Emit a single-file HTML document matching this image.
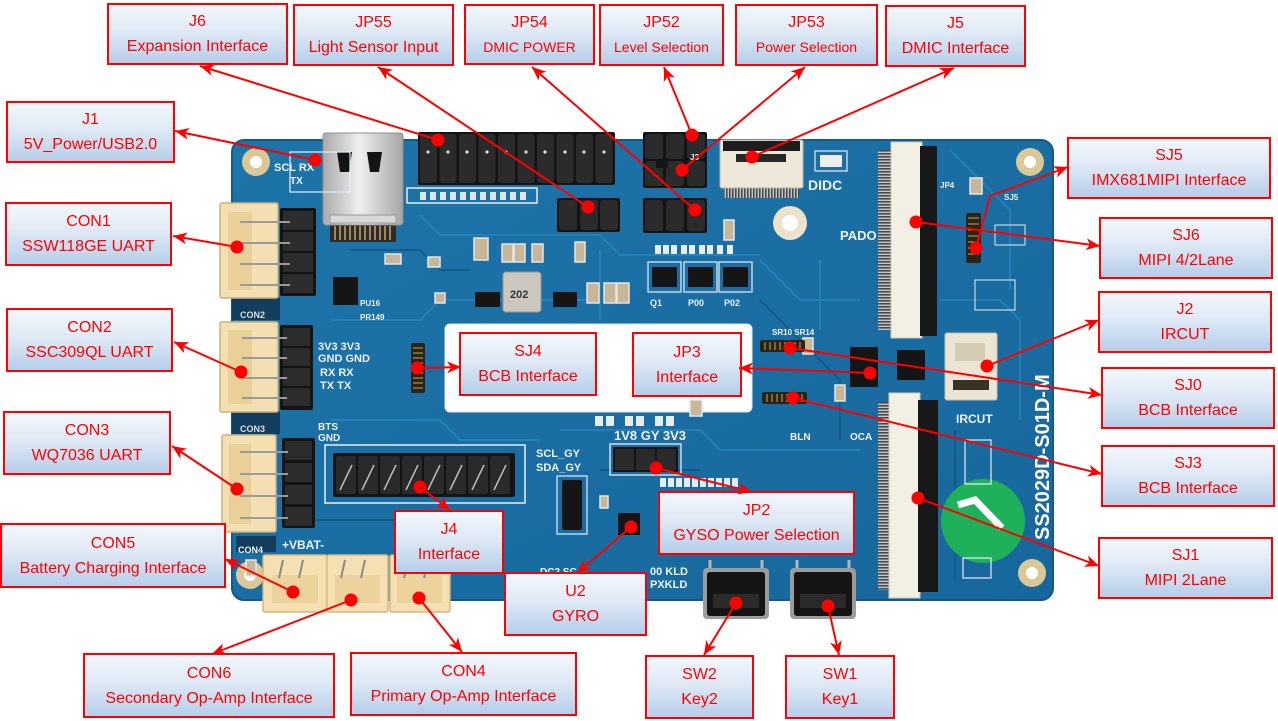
<!DOCTYPE html>
<html><head><meta charset="utf-8">
<style>
html,body{margin:0;padding:0;background:#fff;}
body{width:1278px;height:721px;position:relative;overflow:hidden;font-family:"Liberation Sans","Noto Sans CJK SC",sans-serif;}
.b{position:absolute;box-sizing:border-box;border:2px solid #ff0000;background:linear-gradient(to bottom,#f3f7fc 0%,#dfe9f5 45%,#b5cee9 100%);color:#ff0000;display:flex;flex-direction:column;justify-content:center;align-items:center;font-size:16px;line-height:25px;white-space:nowrap;z-index:1;}
.b span{display:block;}
.s{font-size:14px;}
svg{position:absolute;left:0;top:0;}
</style></head><body>
<svg width="1278" height="721" viewBox="0 0 1278 721">
<defs>
<linearGradient id="usb" x1="0" x2="1"><stop offset="0" stop-color="#a9a9a9"/><stop offset=".45" stop-color="#efefef"/><stop offset="1" stop-color="#a5a5a5"/></linearGradient>
<pattern id="teeth" width="14" height="3" patternUnits="userSpaceOnUse"><rect width="14" height="1.6" fill="#4a4a4a"/><rect y="1.6" width="14" height="1.4" fill="#c4c4c4"/></pattern>
<pattern id="teethh" width="3" height="14" patternUnits="userSpaceOnUse"><rect width="1.6" height="14" fill="#4a4a4a"/><rect x="1.6" width="1.4" height="14" fill="#c4c4c4"/></pattern>
<linearGradient id="board" x1="0" y1="0" x2="1" y2="1"><stop offset="0" stop-color="#1d74a9"/><stop offset="1" stop-color="#17679c"/></linearGradient>
</defs>
<!-- board -->
<rect x="232" y="140" width="821" height="460" rx="12" fill="url(#board)" stroke="#145a88" stroke-width="2"/>
<!-- trace texture -->
<g fill="none" stroke="#2a88c0" stroke-width="2" opacity=".7">
<path d="M420 215 L440 235 L600 235 L620 255 L760 255"/>
<path d="M330 320 L420 320 L440 300 L600 300"/>
<path d="M760 260 L800 300 L860 300"/>
<path d="M560 430 L700 430 L720 450 L860 450"/>
<path d="M940 300 L1000 300 L1020 320 L1020 420"/>
<path d="M330 420 L440 420 L460 440 L540 440"/>
<path d="M600 250 L600 320"/>
<path d="M820 260 L820 330"/>
<path d="M950 150 L1010 210 L1010 290"/>
</g>
<g fill="none" stroke="#135887" stroke-width="2" opacity=".8">
<path d="M350 250 L420 250 L440 270 L470 270"/>
<path d="M600 470 L700 470"/>
<path d="M760 300 L840 380 L840 440"/>
<path d="M955 430 L955 580"/>
<path d="M300 520 L400 520"/>
</g>
<!-- dark areas left -->
<rect x="232" y="298" width="48" height="22" fill="#123d5e"/>
<rect x="232" y="412" width="48" height="22" fill="#123d5e"/>
<rect x="236" y="536" width="40" height="16" fill="#123d5e"/>
<!-- mounting holes -->
<g fill="#dac896"><circle cx="256" cy="162" r="14"/><circle cx="1030" cy="162" r="14"/><circle cx="250" cy="575" r="14"/><circle cx="1032" cy="573" r="14"/></g>
<circle cx="790" cy="223" r="17" fill="#ebe3cb"/>
<g fill="#fff"><circle cx="256" cy="162" r="6"/><circle cx="1030" cy="162" r="6"/><circle cx="250" cy="575" r="6"/><circle cx="1032" cy="573" r="6"/><circle cx="790" cy="223" r="8"/></g>
<!-- USB-C -->
<rect x="330" y="222" width="66" height="20" fill="#2c2c2c"/>
<g stroke="#c9a860" stroke-width="1.5"><path d="M335 226v14M340 226v14M345 226v14M350 226v14M355 226v14M360 226v14M365 226v14M370 226v14M375 226v14M380 226v14M385 226v14M390 226v14"/></g>
<rect x="323" y="133" width="80" height="92" rx="3" fill="url(#usb)" stroke="#8f8f8f"/>
<rect x="330" y="215" width="66" height="8" fill="#d8d8d8" stroke="#999"/>
<path d="M337 152 h15 l-3 20 h-9 z" fill="#141414"/>
<path d="M367 152 h15 l-3 20 h-9 z" fill="#141414"/>
<!-- J6 header -->
<rect x="418" y="132" width="197" height="53" rx="2" fill="#141414"/>
<g fill="#2b2b2b">
<rect x="420" y="134" width="17" height="49" rx="3"/><rect x="439.5" y="134" width="17" height="49" rx="3"/><rect x="459" y="134" width="17" height="49" rx="3"/><rect x="478.5" y="134" width="17" height="49" rx="3"/><rect x="498" y="134" width="17" height="49" rx="3"/><rect x="517.5" y="134" width="17" height="49" rx="3"/><rect x="537" y="134" width="17" height="49" rx="3"/><rect x="556.5" y="134" width="17" height="49" rx="3"/><rect x="576" y="134" width="17" height="49" rx="3"/><rect x="595.5" y="134" width="17" height="49" rx="3"/>
</g>
<g fill="#ddd"><circle cx="428" cy="152" r="1.6"/><circle cx="448" cy="152" r="1.6"/><circle cx="467" cy="152" r="1.6"/><circle cx="487" cy="152" r="1.6"/><circle cx="506" cy="152" r="1.6"/><circle cx="526" cy="152" r="1.6"/><circle cx="545" cy="152" r="1.6"/><circle cx="565" cy="152" r="1.6"/><circle cx="584" cy="152" r="1.6"/><circle cx="604" cy="152" r="1.6"/></g>
<rect x="407" y="188" width="130" height="15" fill="none" stroke="#e8eef2" stroke-width="1.5"/>
<g fill="#e0e6ea"><rect x="420" y="192" width="6" height="8"/><rect x="430" y="192" width="6" height="8"/><rect x="440" y="192" width="6" height="8"/><rect x="450" y="192" width="6" height="8"/><rect x="460" y="192" width="6" height="8"/><rect x="470" y="192" width="6" height="8"/><rect x="480" y="192" width="6" height="8"/><rect x="490" y="192" width="6" height="8"/><rect x="500" y="192" width="6" height="8"/><rect x="510" y="192" width="6" height="8"/><rect x="520" y="192" width="6" height="8"/></g>
<!-- JP55 -->
<rect x="557" y="198" width="63" height="34" rx="2" fill="#141414"/>
<g fill="#2b2b2b"><rect x="559" y="200" width="18" height="30" rx="3"/><rect x="580" y="200" width="18" height="30" rx="3"/><rect x="600" y="200" width="18" height="30" rx="3"/></g>
<!-- JP52/53 -->
<rect x="643" y="132" width="64" height="56" rx="2" fill="#141414"/>
<g fill="#2b2b2b"><rect x="645" y="134" width="18" height="25" rx="3"/><rect x="666" y="134" width="18" height="25" rx="3"/><rect x="687" y="134" width="18" height="25" rx="3"/><rect x="645" y="161" width="18" height="25" rx="3"/><rect x="666" y="161" width="18" height="25" rx="3"/><rect x="687" y="161" width="18" height="25" rx="3"/></g>
<!-- JP54 -->
<rect x="643" y="198" width="64" height="35" rx="2" fill="#141414"/>
<g fill="#2b2b2b"><rect x="645" y="200" width="18" height="31" rx="3"/><rect x="666" y="200" width="18" height="31" rx="3"/><rect x="687" y="200" width="18" height="31" rx="3"/></g>
<!-- J5 FPC -->
<rect x="724" y="185" width="75" height="13" fill="url(#teethh)"/>
<rect x="720" y="140" width="83" height="48" rx="2" fill="#ece7d8" stroke="#bdb6a2"/>
<rect x="723" y="141" width="77" height="10" fill="#1d1d1d"/>
<rect x="736" y="154" width="50" height="8" fill="#262626"/>
<!-- top vertical FPC -->
<rect x="878" y="150" width="14" height="180" fill="url(#teeth)"/>
<rect x="891" y="142" width="31" height="196" fill="#f2efe5" stroke="#cfc9b8"/>
<rect x="920" y="146" width="17" height="190" fill="#181818"/>
<!-- lower vertical FPC -->
<rect x="878" y="402" width="13" height="188" fill="url(#teeth)"/>
<rect x="889" y="393" width="31" height="205" fill="#f2efe5" stroke="#cfc9b8"/>
<rect x="918" y="400" width="20" height="192" fill="#181818"/>
<!-- white window -->
<rect x="445" y="324" width="307" height="88" rx="5" fill="#ffffff" stroke="#dfe6ea"/>
<!-- left JST connectors -->
<g fill="#f3dfb2" stroke="#cdb27a" stroke-width="1.5">
<rect x="220" y="203" width="58" height="95" rx="2"/>
<rect x="220" y="322" width="58" height="90" rx="2"/>
<rect x="222" y="435" width="54" height="97" rx="2"/>
</g>
<g fill="#e9cf98"><rect x="228" y="212" width="24" height="78"/><rect x="228" y="330" width="24" height="74"/><rect x="229" y="444" width="22" height="80"/></g>
<g fill="#141414">
<rect x="280" y="208" width="36" height="88" rx="2"/>
<rect x="280" y="325" width="33" height="85" rx="2"/>
<rect x="282" y="438" width="33" height="90" rx="2"/>
</g>
<g fill="#2c2c2c"><rect x="283" y="211" width="30" height="19"/><rect x="283" y="232" width="30" height="19"/><rect x="283" y="253" width="30" height="19"/><rect x="283" y="274" width="30" height="19"/>
<rect x="283" y="328" width="27" height="18"/><rect x="283" y="348" width="27" height="18"/><rect x="283" y="368" width="27" height="18"/><rect x="283" y="388" width="27" height="18"/>
<rect x="285" y="441" width="27" height="19"/><rect x="285" y="463" width="27" height="19"/><rect x="285" y="485" width="27" height="19"/><rect x="285" y="507" width="27" height="19"/></g>
<g stroke="#9a9a9a" stroke-width="2"><path d="M240 222h50M240 243h50M240 264h50M240 285h50M242 338h45M242 358h45M242 378h45M242 398h45M240 452h48M240 474h48M240 496h48M240 518h48"/></g>
<!-- bottom JST -->
<g fill="#f5e0b4" stroke="#d3b77f" stroke-width="1.5">
<rect x="263" y="555" width="64" height="57" rx="2"/>
<rect x="327" y="555" width="61" height="57" rx="2"/>
<rect x="390" y="555" width="60" height="57" rx="2"/>
</g>
<g fill="#ecd29c"><rect x="272" y="575" width="46" height="28"/><rect x="335" y="575" width="45" height="28"/><rect x="397" y="575" width="45" height="28"/></g>
<g stroke="#8a8a8a" stroke-width="2"><path d="M283 560l-4 18M303 560l-4 18M345 560l-4 18M365 560l-4 18M408 560l-4 18M428 560l-4 18"/></g>
<!-- J4 header -->
<rect x="325" y="445" width="200" height="58" fill="none" stroke="#e8eef2" stroke-width="1.5"/>
<rect x="333" y="453" width="182" height="44" rx="2" fill="#141414"/>
<g fill="#2a2a2a"><rect x="336" y="456" width="20" height="38" rx="2"/><rect x="358" y="456" width="20" height="38" rx="2"/><rect x="380" y="456" width="20" height="38" rx="2"/><rect x="402" y="456" width="20" height="38" rx="2"/><rect x="424" y="456" width="20" height="38" rx="2"/><rect x="446" y="456" width="20" height="38" rx="2"/><rect x="468" y="456" width="20" height="38" rx="2"/><rect x="490" y="456" width="20" height="38" rx="2"/></g>
<g stroke="#bbb" stroke-width="1.5"><path d="M340 490l12-25M362 490l12-25M384 490l12-25M406 490l12-25M428 490l12-25M450 490l12-25M472 490l12-25M494 490l12-25"/></g>
<!-- JP2 header -->
<rect x="610" y="444" width="71" height="31" fill="none" stroke="#e8eef2" stroke-width="1.3"/>
<rect x="613" y="447" width="65" height="25" fill="#141414"/>
<g fill="#2a2a2a"><rect x="615" y="449" width="19" height="21"/><rect x="636" y="449" width="19" height="21"/><rect x="657" y="449" width="19" height="21"/></g>
<!-- buttons -->
<g stroke="#b5b5b5" stroke-width="3"><path d="M710 560v12M762 560v12M797 560v12M849 560v12"/></g>
<rect x="703" y="568" width="66" height="51" rx="4" fill="#9c9c9c"/>
<rect x="707" y="572" width="58" height="44" rx="3" fill="#141414"/>
<rect x="713" y="594" width="46" height="14" fill="#2a2a2a"/>
<rect x="790" y="568" width="66" height="51" rx="4" fill="#9c9c9c"/>
<rect x="794" y="572" width="58" height="44" rx="3" fill="#141414"/>
<rect x="800" y="594" width="46" height="14" fill="#2a2a2a"/>
<!-- J2 IRCUT -->
<rect x="945" y="333" width="52" height="67" rx="2" fill="#ece5d4" stroke="#c9bfa8"/>
<rect x="955" y="343" width="30" height="18" fill="#d6ccb6"/>
<rect x="953" y="380" width="36" height="10" fill="#3a3226"/>
<!-- green circle -->
<circle cx="983" cy="521" r="42" fill="#1eb15a"/>
<path d="M958 505 L975 500 L1002 528" fill="none" stroke="#fff" stroke-width="7"/>
<rect x="965" y="440" width="26" height="44" fill="none" stroke="#e8eef2" stroke-width="1.2"/>
<rect x="963" y="558" width="28" height="20" fill="none" stroke="#e8eef2" stroke-width="1.2"/>
<!-- vertical text -->
<text transform="translate(1049,540) rotate(-90)" font-family="Liberation Sans" font-weight="bold" font-size="20" fill="#ffffff">SS2029D-S01D-M</text>
<!-- inductor -->
<rect x="503" y="272" width="38" height="40" rx="3" fill="#cbc7bf" stroke="#9a968e"/>
<text x="510" y="298" font-family="Liberation Sans" font-size="11" fill="#333" font-weight="bold">202</text>
<!-- caps -->
<g fill="#c7b698" stroke="#e6e6e6" stroke-width="1.5">
<rect x="474" y="238" width="14" height="22"/><rect x="502" y="244" width="11" height="18"/><rect x="514" y="244" width="11" height="18"/><rect x="532" y="244" width="11" height="18"/>
<rect x="575" y="242" width="10" height="20"/><rect x="587" y="283" width="12" height="20"/><rect x="604" y="283" width="12" height="20"/><rect x="617" y="283" width="12" height="20"/>
<rect x="385" y="254" width="16" height="10"/><rect x="428" y="257" width="12" height="10"/><rect x="435" y="293" width="10" height="10"/>
<rect x="724" y="220" width="10" height="20"/><rect x="970" y="178" width="12" height="16"/><rect x="803" y="338" width="10" height="16"/>
<rect x="835" y="385" width="10" height="16"/><rect x="690" y="400" width="12" height="16"/>
<rect x="246" y="560" width="10" height="16"/><rect x="600" y="496" width="8" height="12"/>
</g>
<!-- chips -->
<g fill="#151515">
<rect x="333" y="277" width="25" height="28" rx="1"/>
<rect x="475" y="292" width="25" height="15"/>
<rect x="553" y="292" width="24" height="15"/>
<rect x="652" y="267" width="25" height="20"/><rect x="688" y="267" width="25" height="20"/><rect x="723" y="267" width="25" height="20"/>
<rect x="850" y="347" width="28" height="40"/>
<rect x="897" y="350" width="28" height="30"/>
<rect x="618" y="513" width="22" height="22"/>
<rect x="562" y="480" width="20" height="50" rx="2"/>
<rect x="656" y="160" width="12" height="8"/>
<rect x="820" y="155" width="22" height="12" fill="#eee"/>
</g>
<g fill="none" stroke="#e8eef2" stroke-width="1.2">
<rect x="648" y="262" width="33" height="30"/><rect x="684" y="262" width="33" height="30"/><rect x="719" y="262" width="33" height="30"/>
<rect x="815" y="151" width="32" height="20"/>
<rect x="557" y="476" width="30" height="58"/>
<rect x="290" y="152" width="60" height="40"/>
</g>
<!-- small connectors -->
<g fill="#2a2416"><rect x="411" y="343" width="14" height="50" rx="2"/><rect x="760" y="340" width="45" height="12" rx="2"/><rect x="762" y="392" width="45" height="12" rx="2"/><rect x="966" y="213" width="15" height="50" rx="2"/></g>
<g stroke="#c8a35a" stroke-width="1"><path d="M413 348h10M413 353h10M413 358h10M413 363h10M413 368h10M413 373h10M413 378h10M413 383h10M413 388h10"/><path d="M765 342v8M770 342v8M775 342v8M780 342v8M785 342v8M790 342v8M795 342v8M800 342v8M767 394v8M772 394v8M777 394v8M782 394v8M787 394v8M792 394v8M797 394v8M802 394v8"/><path d="M968 218h11M968 224h11M968 230h11M968 236h11M968 242h11M968 248h11M968 254h11"/></g>
<!-- small pads rows -->
<g fill="#e6ecef">
<rect x="595" y="416" width="8" height="10"/><rect x="606" y="416" width="8" height="10"/><rect x="625" y="416" width="8" height="10"/><rect x="636" y="416" width="8" height="10"/><rect x="655" y="416" width="8" height="10"/><rect x="666" y="416" width="8" height="10"/>
<rect x="660" y="478" width="6" height="9"/><rect x="668" y="478" width="6" height="9"/><rect x="676" y="478" width="6" height="9"/><rect x="684" y="478" width="6" height="9"/><rect x="692" y="478" width="6" height="9"/><rect x="700" y="478" width="6" height="9"/><rect x="708" y="478" width="6" height="9"/><rect x="716" y="478" width="6" height="9"/><rect x="724" y="478" width="6" height="9"/><rect x="732" y="478" width="6" height="9"/>
<rect x="655" y="245" width="6" height="9"/><rect x="663" y="245" width="6" height="9"/><rect x="671" y="245" width="6" height="9"/><rect x="681" y="245" width="6" height="9"/><rect x="689" y="245" width="6" height="9"/><rect x="699" y="245" width="6" height="9"/><rect x="707" y="245" width="6" height="9"/><rect x="717" y="245" width="6" height="9"/><rect x="727" y="245" width="6" height="9"/>
<rect x="975" y="280" width="40" height="30" fill="none" stroke="#e8eef2"/>
<rect x="995" y="225" width="30" height="20" fill="none" stroke="#e8eef2"/>
</g>
<!-- silkscreen text -->
<g font-family="Liberation Sans" fill="#eef3f6" font-weight="bold">
<text x="274" y="171" font-size="11">SCL RX</text>
<text x="290" y="184" font-size="10">TX</text>
<text x="318" y="350" font-size="11">3V3 3V3</text>
<text x="318" y="362" font-size="11">GND GND</text>
<text x="320" y="376" font-size="11">RX  RX</text>
<text x="320" y="389" font-size="11">TX  TX</text>
<text x="318" y="430" font-size="10">BTS</text>
<text x="318" y="441" font-size="10">GND</text>
<text x="614" y="440" font-size="13">1V8 GY 3V3</text>
<text x="536" y="457" font-size="11">SCL_GY</text>
<text x="536" y="471" font-size="11">SDA_GY</text>
<text x="808" y="190" font-size="14">DIDC</text>
<text x="840" y="240" font-size="13">PADO</text>
<text x="956" y="423" font-size="12">IRCUT</text>
<text x="282" y="549" font-size="12">+VBAT-</text>
<text x="238" y="553" font-size="9">CON4</text>
<text x="650" y="306" font-size="9">Q1</text>
<text x="688" y="306" font-size="9">P00</text>
<text x="724" y="306" font-size="9">P02</text>
<text x="360" y="306" font-size="8">PU16</text>
<text x="360" y="320" font-size="8">PR149</text>
<text x="540" y="575" font-size="10">DC2 SC</text>
<text x="540" y="588" font-size="10">ICC2 SDA</text>
<text x="650" y="575" font-size="11">00 KLD</text>
<text x="650" y="588" font-size="11">PXKLD</text>
<text x="690" y="160" font-size="8">J3</text>
<text x="1004" y="200" font-size="8">SJ5</text>
<text x="940" y="188" font-size="8">JP4</text>
<text x="772" y="335" font-size="8">SR10 SR14</text>
<text x="790" y="440" font-size="10">BLN</text>
<text x="850" y="440" font-size="10">OCA</text>
<text x="240" y="318" font-size="9" fill="#ddd">CON2</text>
<text x="240" y="432" font-size="9" fill="#ddd">CON3</text>
</g>
</svg>

<div class="b" style="left:107px;top:3px;width:181px;height:62px"><span>J6</span><span>Expansion Interface</span></div>
<div class="b" style="left:293px;top:4px;width:161px;height:62px"><span>JP55</span><span>Light Sensor Input</span></div>
<div class="b" style="left:464px;top:4px;width:131px;height:61px"><span>JP54</span><span class="s">DMIC POWER</span></div>
<div class="b" style="left:599px;top:4px;width:125px;height:62px"><span>JP52</span><span class="s">Level Selection</span></div>
<div class="b" style="left:735px;top:4px;width:143px;height:62px"><span>JP53</span><span class="s">Power Selection</span></div>
<div class="b" style="left:885px;top:5px;width:141px;height:62px"><span>J5</span><span>DMIC Interface</span></div>
<div class="b" style="left:6px;top:101px;width:169px;height:62px"><span>J1</span><span>5V_Power/USB2.0</span></div>
<div class="b" style="left:5px;top:202px;width:167px;height:64px"><span>CON1</span><span>SSW118GE UART</span></div>
<div class="b" style="left:6px;top:308px;width:167px;height:64px"><span>CON2</span><span>SSC309QL UART</span></div>
<div class="b" style="left:3px;top:411px;width:168px;height:64px"><span>CON3</span><span>WQ7036 UART</span></div>
<div class="b" style="left:0px;top:523px;width:226px;height:65px"><span>CON5</span><span>Battery Charging Interface</span></div>
<div class="b" style="left:83px;top:653px;width:252px;height:65px"><span>CON6</span><span>Secondary Op-Amp Interface</span></div>
<div class="b" style="left:350px;top:652px;width:227px;height:64px"><span>CON4</span><span>Primary Op-Amp Interface</span></div>
<div class="b" style="left:394px;top:510px;width:110px;height:64px"><span>J4</span><span>Interface</span></div>
<div class="b" style="left:504px;top:572px;width:143px;height:64px"><span>U2</span><span>GYRO</span></div>
<div class="b" style="left:658px;top:491px;width:197px;height:64px"><span>JP2</span><span>GYSO Power Selection</span></div>
<div class="b" style="left:645px;top:655px;width:109px;height:64px"><span>SW2</span><span>Key2</span></div>
<div class="b" style="left:785px;top:655px;width:110px;height:64px"><span>SW1</span><span>Key1</span></div>
<div class="b" style="left:1098px;top:537px;width:175px;height:62px"><span>SJ1</span><span>MIPI 2Lane</span></div>
<div class="b" style="left:1101px;top:445px;width:174px;height:62px"><span>SJ3</span><span>BCB Interface</span></div>
<div class="b" style="left:1101px;top:367px;width:174px;height:62px"><span>SJ0</span><span>BCB Interface</span></div>
<div class="b" style="left:1098px;top:291px;width:174px;height:62px"><span>J2</span><span>IRCUT</span></div>
<div class="b" style="left:1099px;top:217px;width:174px;height:62px"><span>SJ6</span><span>MIPI 4/2Lane</span></div>
<div class="b" style="left:1067px;top:137px;width:204px;height:62px"><span>SJ5</span><span>IMX681MIPI Interface</span></div>
<div class="b" style="left:459px;top:332px;width:138px;height:64px"><span>SJ4</span><span>BCB Interface</span></div>
<div class="b" style="left:632px;top:332px;width:110px;height:65px"><span>JP3</span><span>Interface</span></div>

<svg width="1278" height="721" viewBox="0 0 1278 721" style="z-index:2">
<defs>
<marker id="ah" markerUnits="userSpaceOnUse" markerWidth="16" markerHeight="14" refX="14" refY="6" orient="auto">
<path d="M0,0 L14,6 L0,12 L4,6 z" fill="#ff0000"/>
</marker>
</defs>
<g stroke="#ff0000" stroke-width="2" fill="none" marker-end="url(#ah)">
<line x1="438" y1="140" x2="200" y2="66"/>
<line x1="588" y1="207" x2="378" y2="67"/>
<line x1="695" y1="210" x2="532" y2="67"/>
<line x1="692" y1="135" x2="664" y2="67"/>
<line x1="682" y1="170" x2="805" y2="67"/>
<line x1="752" y1="157" x2="954" y2="68"/>
<line x1="315" y1="160" x2="175" y2="131"/>
<line x1="237" y1="247" x2="173" y2="236"/>
<line x1="241" y1="372" x2="174" y2="342"/>
<line x1="237" y1="489" x2="172" y2="446"/>
<line x1="293" y1="592" x2="225" y2="559"/>
<line x1="351" y1="600" x2="212" y2="654"/>
<line x1="419" y1="598" x2="462" y2="652"/>
<line x1="420" y1="487" x2="450" y2="510"/>
<line x1="631" y1="527" x2="577" y2="573"/>
<line x1="656" y1="468" x2="752" y2="492"/>
<line x1="736" y1="603" x2="704" y2="655"/>
<line x1="828" y1="606" x2="839" y2="655"/>
<line x1="918" y1="498" x2="1099" y2="566"/>
<line x1="793" y1="398" x2="1102" y2="474"/>
<line x1="790" y1="348" x2="1102" y2="395"/>
<line x1="870" y1="373" x2="739" y2="368"/>
<line x1="987" y1="366" x2="1099" y2="320"/>
<line x1="916" y1="222" x2="1100" y2="246"/>
<polyline points="976,248 990,196 1068,167"/>
<line x1="417" y1="368" x2="461" y2="367"/>
</g>
<g fill="#ff0000">
<circle cx="438" cy="140" r="6.5"/><circle cx="588" cy="207" r="6.5"/><circle cx="695" cy="210" r="6.5"/><circle cx="692" cy="135" r="6.5"/><circle cx="682" cy="170" r="6.5"/><circle cx="752" cy="157" r="6.5"/>
<circle cx="315" cy="160" r="6.5"/><circle cx="237" cy="247" r="6.5"/><circle cx="241" cy="372" r="6.5"/><circle cx="237" cy="489" r="6.5"/><circle cx="293" cy="592" r="6.5"/><circle cx="351" cy="600" r="6.5"/><circle cx="419" cy="598" r="6.5"/>
<circle cx="420" cy="487" r="6.5"/><circle cx="631" cy="527" r="6.5"/><circle cx="656" cy="468" r="6.5"/><circle cx="736" cy="603" r="6.5"/><circle cx="828" cy="606" r="6.5"/>
<circle cx="918" cy="498" r="6.5"/><circle cx="793" cy="398" r="6.5"/><circle cx="790" cy="348" r="6.5"/><circle cx="870" cy="373" r="6.5"/><circle cx="987" cy="366" r="6.5"/><circle cx="916" cy="222" r="6.5"/><circle cx="976" cy="248" r="6.5"/><circle cx="417" cy="368" r="6.5"/>
</g>
</svg>
</body></html>
